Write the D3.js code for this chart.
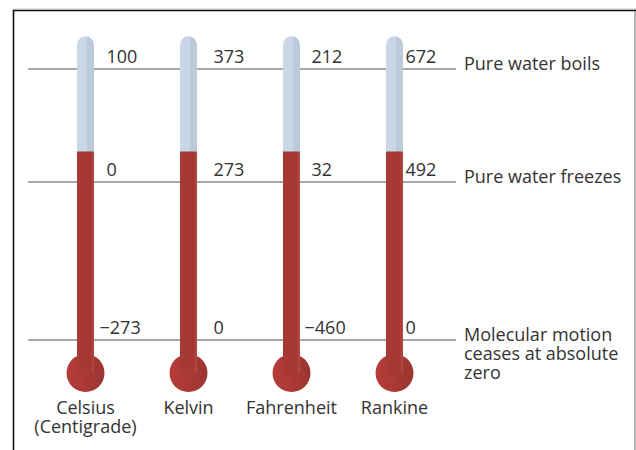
<!DOCTYPE html>
<html>
<head>
<meta charset="utf-8">
<script src="https://cdn.jsdelivr.net/npm/d3@7"></script>
<style>
  html, body { margin: 0; padding: 0; background: #fff; }
  svg { display: block; font-family: "Open Sans", "Noto Sans", sans-serif; }
</style>
</head>
<body>
<div id="chart"></div>
<script>
// ---- Data ----
const scaleNames = ['Celsius', 'Kelvin', 'Fahrenheit', 'Rankine'];
const scaleSubtitles = ['(Centigrade)', '', '', ''];
const boilValues = [100, 373, 212, 672];
const freezeValues = [0, 273, 32, 492];
const zeroValues = [-273, 0, -460, 0];
const eventLabels = [
  ['Pure water boils'],
  ['Pure water freezes'],
  ['Molecular motion', 'ceases at absolute', 'zero']
];
// reference levels in Celsius (boils, freezes, absolute zero)
const levelCelsius = [100, 0, -273];
const tubeTopCelsius = 129;   // top of the glass tube
const mercuryCelsius = 27;    // level of the red column

const W = 636, H = 450;
const svg = d3.select('#chart').append('svg').attr('width', W).attr('height', H);
const defs = svg.append('defs');

// ---- Gradients ----
const glass = defs.append('linearGradient').attr('id', 'glass').attr('x1', 0).attr('x2', 1);
glass.append('stop').attr('offset', '0%').attr('stop-color', '#cbd8e8');
glass.append('stop').attr('offset', '58%').attr('stop-color', '#c8d5e5');
glass.append('stop').attr('offset', '60%').attr('stop-color', '#b9cad9');
glass.append('stop').attr('offset', '100%').attr('stop-color', '#bccbd9');

const mercury = defs.append('linearGradient').attr('id', 'mercury').attr('x1', 0).attr('x2', 1);
mercury.append('stop').attr('offset', '0%').attr('stop-color', '#a83a36');
mercury.append('stop').attr('offset', '80%').attr('stop-color', '#a63834');
mercury.append('stop').attr('offset', '100%').attr('stop-color', '#b24a46');

const bulb = defs.append('linearGradient').attr('id', 'bulb').attr('x1', 0).attr('x2', 1);
bulb.append('stop').attr('offset', '0%').attr('stop-color', '#b63d38');
bulb.append('stop').attr('offset', '50%').attr('stop-color', '#aa3934');
bulb.append('stop').attr('offset', '100%').attr('stop-color', '#9a3532');

// ---- Scales ----
const x = d3.scalePoint().domain(scaleNames).range([85.5, 394.5]);
const y = d3.scaleLinear().domain([-273, 0, 100]).range([340, 182, 69]);

const tubeW = 17;
const bulbR = 19;
const bulbDy = 33;
const labelDx = [21, 25, 20, 11];
const lineX0 = 28, lineX1 = 456;

// ---- Frame ----
svg.append('line').attr('x1', 13).attr('x2', W).attr('y1', 9).attr('y2', 9)
  .attr('stroke', '#cfcfcf').attr('stroke-width', 1);
svg.append('path')
  .attr('d', `M13.5,${H} V10.5 H${W}`)
  .attr('fill', 'none').attr('stroke', '#111').attr('stroke-width', 1.6);
svg.append('line').attr('x1', W - 1).attr('x2', W - 1).attr('y1', 11).attr('y2', H)
  .attr('stroke', '#9a9a9a').attr('stroke-width', 1.5);

// ---- Reference lines ----
svg.append('g').selectAll('line').data(levelCelsius).join('line')
  .attr('x1', lineX0).attr('x2', lineX1)
  .attr('y1', d => y(d)).attr('y2', d => y(d))
  .attr('stroke', '#8c8c8c').attr('stroke-width', 1.5);

// ---- Thermometers ----
const therm = svg.append('g').selectAll('g').data(scaleNames).join('g')
  .attr('transform', d => `translate(${x(d)},0)`);

// glass tube with rounded top
therm.append('path')
  .attr('d', () => {
    const t = y(tubeTopCelsius), b = y(mercuryCelsius) + 1, r = tubeW / 2;
    return `M${-r},${b} V${t + r} A${r},${r} 0 0 1 ${r},${t + r} V${b} Z`;
  })
  .attr('fill', 'url(#glass)');

// bulb
therm.append('circle')
  .attr('cx', 0).attr('cy', y(levelCelsius[2]) + bulbDy)
  .attr('r', bulbR)
  .attr('fill', 'url(#bulb)');

// red column
therm.append('rect')
  .attr('x', -tubeW / 2).attr('width', tubeW)
  .attr('y', y(mercuryCelsius))
  .attr('height', y(levelCelsius[2]) + bulbDy - y(mercuryCelsius))
  .attr('fill', 'url(#mercury)');

// ---- Value labels ----
const fmt = v => (v < 0 ? '\u2212' + Math.abs(v) : String(v));
[boilValues, freezeValues, zeroValues].forEach((vals, li) => {
  svg.append('g').selectAll('text').data(vals).join('text')
    .attr('x', (d, i) => x(scaleNames[i]) + labelDx[i] - (d < 0 ? 7 : 0))
    .attr('y', y(levelCelsius[li]) - 6)
    .attr('font-size', 18)
    .attr('fill', '#333')
    .text(fmt);
});

// ---- Event labels (right side) ----
eventLabels.forEach((lines, li) => {
  const t = svg.append('text')
    .attr('x', 464)
    .attr('y', y(levelCelsius[li]) + 1)
    .attr('font-size', 18)
    .attr('fill', '#333');
  lines.forEach((ln, k) => {
    t.append('tspan').attr('x', 464).attr('dy', k === 0 ? 0 : 19).text(ln);
  });
});

// ---- Scale names ----
const names = svg.append('g').selectAll('text').data(scaleNames).join('text')
  .attr('x', d => x(d))
  .attr('y', 414)
  .attr('text-anchor', 'middle')
  .attr('font-size', 18)
  .attr('fill', '#333');
names.append('tspan').attr('x', d => x(d)).text(d => d);
names.append('tspan').attr('x', d => x(d)).attr('dy', 19)
  .text((d, i) => scaleSubtitles[i]);
</script>
</body>
</html>
